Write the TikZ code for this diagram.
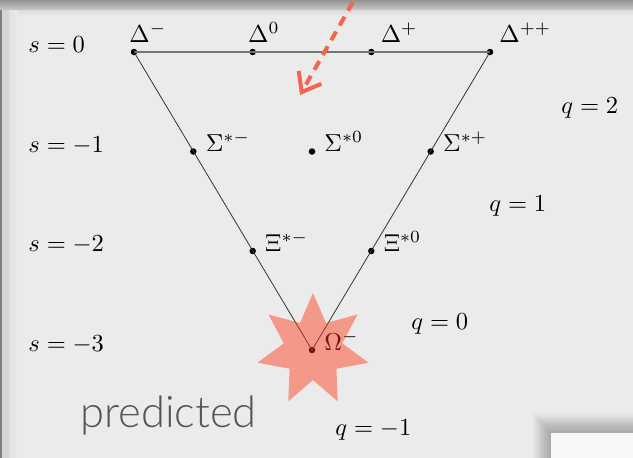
\documentclass[tikz,border=0pt]{standalone}
\usepackage{fontspec}
\newfontfamily\predfont{Lato}[UprightFont={* Light}]
\usetikzlibrary{arrows.meta}
\definecolor{bgc}{HTML}{EBEBEB}
\definecolor{starc}{RGB}{255,54,19}
\definecolor{arrc}{HTML}{F26650}
\definecolor{predc}{HTML}{555555}
\begin{document}
\begin{tikzpicture}[x=1pt,y=-1pt,
  dot/.style={circle,fill=black,inner sep=0pt,minimum size=6.5pt},
  lbl/.style={inner sep=0pt,anchor=base west,scale=2.45,transform shape},
  side/.style={draw=black!80,line width=0.8pt},
  topline/.style={draw=black!55,line width=1.3pt}]
\useasboundingbox (0,0) rectangle (633,458);
% frame
\fill[bgc] (0,0) rectangle (633,458);
\shade[top color=black!42,bottom color=black!22] (0,0) rectangle (633,10);
\fill[black!17] (0,10) rectangle (9,458);
\fill[black!50] (0,10) rectangle (2,458);
\shade[top color=black!14,bottom color=bgc] (9,10) rectangle (633,16);
\shade[left color=black!12,right color=bgc] (9,10) rectangle (18,458);
% bottom-right panel with soft shadow
\foreach \k in {1,...,18} \fill[black,opacity=0.014] ({551-1.0*\k},{433-1.1*\k}) rectangle (633,458);
\fill[black!3] (551,433) rectangle (633,458);
% dots
\node[dot] (dm) at (134,52) {};
\node[dot] (dz) at (252.7,52) {};
\node[dot] (dp) at (371.3,52) {};
\node[dot] (dpp) at (490,52) {};
\node[dot] (sm) at (193.3,151.5) {};
\node[dot] (sz) at (312,151.5) {};
\node[dot] (sp) at (430.7,151.5) {};
\node[dot] (xm) at (252.7,251) {};
\node[dot] (xz) at (371.3,251) {};
\node[dot] (om) at (312,350) {};
% lines
\draw[topline] (dm.center) -- (dpp.center);
\draw[side] (dm.center) -- (om.center) -- (dpp.center);
% particle labels
\node[lbl] (ldm) at ([shift={(-5,-10)}]dm.center) {$\Delta^-$};
\node[lbl] (ldz) at ([shift={(-5,-10)}]dz.center) {$\Delta^0$};
\node[lbl] (ldp) at ([shift={(9,-10)}]dp.center) {$\Delta^+$};
\node[lbl] (ldpp) at ([shift={(9,-10)}]dpp.center) {$\Delta^{++}$};
\node[lbl] (lsm) at ([shift={(12,0)}]sm.center) {$\Sigma^{*-}$};
\node[lbl] (lsz) at ([shift={(12,0)}]sz.center) {$\Sigma^{*0}$};
\node[lbl] (lsp) at ([shift={(12,0)}]sp.center) {$\Sigma^{*+}$};
\node[lbl] (lxm) at ([shift={(12,0)}]xm.center) {$\Xi^{*-}$};
\node[lbl] (lxz) at ([shift={(12,0)}]xz.center) {$\Xi^{*0}$};
\node[lbl] (lom) at ([shift={(12,0)}]om.center) {$\Omega^-$};
% s labels
\node[lbl] (s0) at (28,52) {$s=0$};
\node[lbl] (s1) at (28,152) {$s=-1$};
\node[lbl] (s2) at (28,251) {$s=-2$};
\node[lbl] (s3) at (28,351) {$s=-3$};
% q labels
\node[lbl] (q2) at (561,113.5) {$q=2$};
\node[lbl] (q1) at (489,211) {$q=1$};
\node[lbl] (q0) at (411,329) {$q=0$};
\node[lbl] (qm) at (335,435) {$q=-1$};
% predicted
\node[inner sep=0pt,anchor=base west,font=\predfont\fontsize{43.5}{52}\selectfont,text=predc] (pred) at (80,427) {predicted};
% star
\fill[starc,opacity=0.45,shift={(313,350)}] (-90:57)
  \foreach \i in {1,...,13} { -- ({-90+\i*180/7}:{ifthenelse(mod(\i,2)==0,57,30)}) } -- cycle;
% arrow
\coordinate (as) at (353,2);
\coordinate (ae) at (300,95);
\draw[arrc,line width=4pt,dash pattern=on 10pt off 7pt,-{Straight Barb[length=17pt,width=26pt]}] (as) -- (ae);
\end{tikzpicture}
\end{document}
